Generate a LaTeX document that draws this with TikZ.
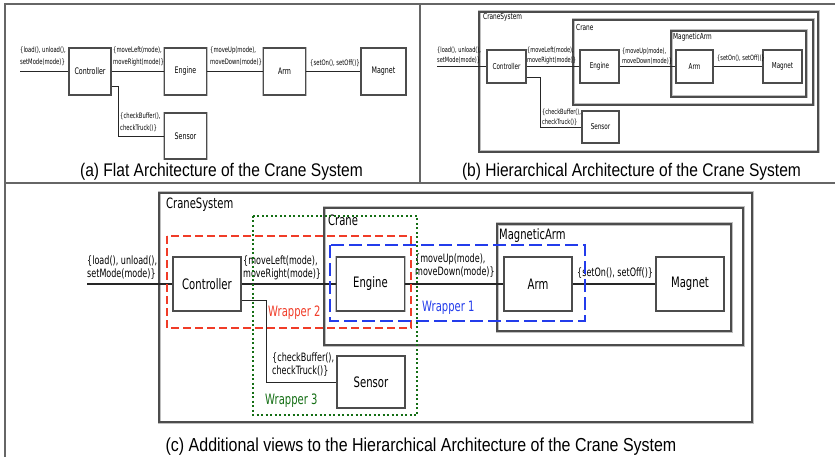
\documentclass[tikz,border=0pt]{standalone}
\usepackage{fontspec}
\setmainfont{DejaVu Sans}[FakeStretch=0.7]
\newfontfamily\capfont{Liberation Sans}[FakeStretch=0.85]
\usetikzlibrary{calc,positioning}
\definecolor{wredc}{RGB}{240,60,40}
\definecolor{wbluec}{RGB}{35,60,235}
\definecolor{wgreenc}{RGB}{20,110,20}

\begin{document}
\begin{tikzpicture}[x=1pt,y=-1pt,
    blk/.style={draw=black!70,fill=white,inner sep=0pt,preaction={draw=black!25,line width=2.6pt}},
    boxA/.style={blk,line width=1.2pt,minimum width=42pt,minimum height=47pt,font=\fontsize{9}{10}\selectfont},
    boxB/.style={blk,line width=1.1pt,minimum width=39pt,minimum height=33pt,font=\fontsize{8.1}{9}\selectfont},
    boxC/.style={blk,line width=1.6pt,minimum width=68pt,minimum height=54pt,font=\fontsize{14.4}{16}\selectfont},
    cont/.style={draw=black!70,line width=1.6pt,preaction={draw=black!25,line width=3pt}},
    wire/.style={draw=black!85,line width=1pt},
    msgA/.style={align=left,inner sep=0pt,anchor=west,font=\fontsize{7.5}{12}\selectfont},
    msgB/.style={align=left,inner sep=0pt,anchor=west,font=\fontsize{7.2}{10}\selectfont},
    msgC/.style={align=left,inner sep=0pt,anchor=west,font=\fontsize{11.5}{13}\selectfont},
    ttlB/.style={inner sep=0pt,anchor=west,font=\fontsize{8.3}{9}\selectfont},
    ttlC/.style={inner sep=0pt,anchor=west,font=\fontsize{14.3}{16}\selectfont},
    captxt/.style={inner sep=0pt,font=\capfont\fontsize{18.3}{20}\selectfont},
    frm/.style={draw=black!60,line width=1.5pt}]
  \useasboundingbox (0,0) rectangle (835,457);
  \draw[frm] (5,457) -- (5,4) -- (835,4);
  \draw[frm] (5,183) -- (835,183);
  \draw[frm] (420,4) -- (420,183);

  % (a) flat
  \node[boxA] (ctrlA) at (90,71.5) {Controller};
  \node[boxA] (engA) at (185.5,71.5) {Engine};
  \node[boxA] (armA) at (284.5,71.5) {Arm};
  \node[boxA,minimum width=45pt] (magA) at (383.5,71.5) {Magnet};
  \node[boxA,minimum height=46pt] (sensA) at (185.5,136) {Sensor};
  \coordinate (inA) at (20,71.5);
  \coordinate (kA) at (118,86);
  \draw[wire] (inA) -- (ctrlA);
  \draw[wire] (ctrlA) -- (engA);
  \draw[wire] (engA) -- (armA);
  \draw[wire] (armA) -- (magA);
  \draw[wire,line width=0.7pt] ([yshift=-14.5pt]ctrlA.east) -| (kA |- sensA.west) -- (sensA.west);
  \node[msgA] (mInA) at (20,56) {\{load(), unload(),\\setMode(mode)\}};
  \node[msgA] (mEngA) at (113,56) {\{moveLeft(mode),\\moveRight(mode)\}};
  \node[msgA] (mArmA) at (210,56) {\{moveUp(mode),\\moveDown(mode)\}};
  \node[msgA] (mMagA) at (310,63) {\{setOn(), setOff()\}};
  \node[msgA] (mSensA) at (120,122) {\{checkBuffer(),\\checkTruck()\}};
  \node[captxt] (capA) at (221.5,172) {(a) Flat Architecture of the Crane System};

  % (b) hierarchical
  \draw[cont,line width=1.2pt] (479,12) rectangle (818,152);
  \draw[cont,line width=1.2pt] (573,20) rectangle (813,105);
  \draw[cont,line width=1.2pt] (671,31) rectangle (806,97);
  \node[ttlB] (sysBl) at (483,17) {CraneSystem};
  \node[ttlB] (crBl) at (576,27) {Crane};
  \node[ttlB] (maBl) at (673,37) {MagneticArm};
  \node[boxB] (ctrlB) at (506.5,66.5) {Controller};
  \node[boxB] (engB) at (599.5,66.5) {Engine};
  \node[boxB,minimum width=37pt] (armB) at (694.5,66.5) {Arm};
  \node[boxB] (magB) at (782.5,66.5) {Magnet};
  \node[boxB,minimum width=37pt,minimum height=32pt] (sensB) at (600.5,127) {Sensor};
  \coordinate (inB) at (437,66.5);
  \coordinate (kB) at (540,77);
  \draw[wire,line width=0.8pt] (inB) -- (ctrlB);
  \draw[wire,line width=0.8pt] (ctrlB) -- (engB);
  \draw[wire,line width=0.8pt] (engB) -- (armB);
  \draw[wire,line width=0.8pt] (armB) -- (magB);
  \draw[wire,line width=0.6pt] ([yshift=-10.5pt]ctrlB.east) -| (kB |- sensB.west) -- (sensB.west);
  \node[msgB] (mInB) at (437,55) {\{load(), unload(),\\setMode(mode)\}};
  \node[msgB] (mEngB) at (527,56) {\{moveLeft(mode),\\moveRight(mode)\}};
  \node[msgB] (mArmB) at (622,56) {\{moveUp(mode),\\moveDown(mode)\}};
  \node[msgB] (mMagB) at (717,58) {\{setOn(), setOff()\}};
  \node[msgB] (mSensB) at (542,117) {\{checkBuffer(),\\checkTruck()\}};
  \node[captxt] (capB) at (631.5,172) {(b) Hierarchical Architecture of the Crane System};

  % (c) additional views
  \draw[cont] (159,193) rectangle (752,422);
  \draw[cont] (324,208) rectangle (743,345);
  \draw[cont] (497,224) rectangle (731,331);
  \node[ttlC] (sysCl) at (166,205) {CraneSystem};
  \node[ttlC] (crCl) at (328,220) {Crane};
  \node[ttlC] (maCl) at (499,236) {MagneticArm};
  \node[boxC] (ctrlC) at (207,284) {Controller};
  \node[boxC] (engC) at (370.5,284) {Engine};
  \node[boxC] (armC) at (538,284) {Arm};
  \node[boxC] (magC) at (690,284) {Magnet};
  \node[boxC,minimum height=52pt] (sensC) at (371,382) {Sensor};
  \coordinate (inC) at (87,284);
  \coordinate (kC) at (266,300);
  \draw[wire,line width=1.2pt] (inC) -- (ctrlC);
  \draw[wire,line width=1.2pt] (ctrlC) -- (engC);
  \draw[wire,line width=1.2pt] (engC) -- (armC);
  \draw[wire,line width=1.2pt] (armC) -- (magC);
  \draw[wire] ([yshift=-16pt]ctrlC.east) -| (kC |- sensC.west) -- (sensC.west);
  \node[msgC] (mInC) at (87,267.5) {\{load(), unload(),\\setMode(mode)\}};
  \node[msgC] (mEngC) at (243,267.5) {\{moveLeft(mode),\\moveRight(mode)\}};
  \node[msgC] (mArmC) at (415,266) {\{moveUp(mode),\\moveDown(mode)\}};
  \node[msgC] (mMagC) at (577,273) {\{setOn(), setOff()\}};
  \node[msgC] (mSensC) at (272,365) {\{checkBuffer(),\\checkTruck()\}};
  \draw[wredc,line width=1.6pt,dash pattern=on 8pt off 4pt] (167,236) rectangle (411,328);
  \draw[wbluec,line width=1.6pt,dash pattern=on 13pt off 5pt] (330,245) rectangle (585,321);
  \draw[wgreenc,line width=1.6pt,dash pattern=on 2pt off 2.5pt] (253,216) rectangle (417,415);
  \node[ttlC,text=wredc] (w2) at (268,313) {Wrapper 2};
  \node[ttlC,text=wbluec] (w1) at (422,308) {Wrapper 1};
  \node[ttlC,text=wgreenc] (w3) at (265,401) {Wrapper 3};
  \node[captxt,font=\capfont\fontsize{18.8}{20}\selectfont] (capC) at (421,447) {(c) Additional views to the Hierarchical Architecture of the Crane System};
\end{tikzpicture}
\end{document}
